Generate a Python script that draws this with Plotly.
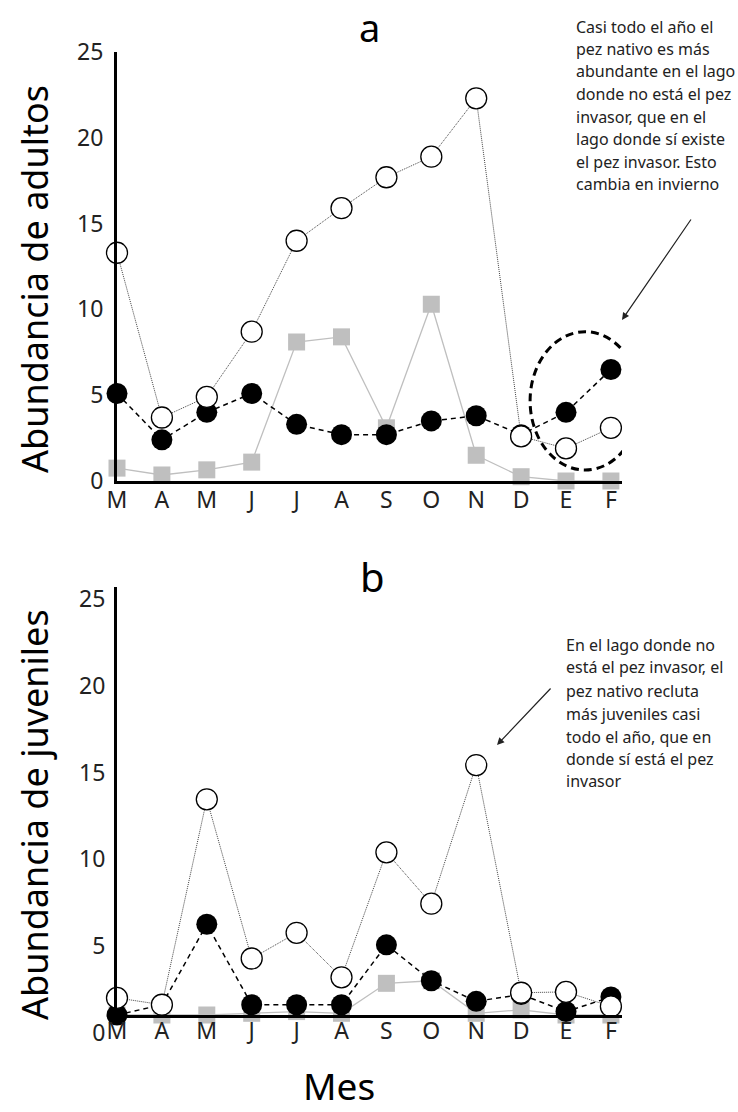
import plotly.graph_objects as go

W, H = 738, 1112

months = ["M", "A", "M", "J", "J", "A", "S", "O", "N", "D", "E", "F"]
idx = list(range(len(months)))

# Panel a: adults
adult_native_no_invader = [13.3, 3.7, 4.9, 8.7, 14.0, 15.9, 17.7, 18.9, 22.3, 2.6, 1.9, 3.1]
adult_native_with_invader = [5.1, 2.4, 4.0, 5.1, 3.3, 2.7, 2.7, 3.5, 3.8, 2.7, 4.0, 6.5]
adult_invader = [0.75, 0.35, 0.65, 1.1, 8.1, 8.4, 3.1, 10.3, 1.5, 0.25, 0.0, 0.0]

# Panel b: juveniles
juv_native_no_invader = [1.0, 0.6, 12.6, 3.3, 4.8, 2.2, 9.5, 6.5, 14.6, 1.3, 1.35, 0.5]
juv_native_with_invader = [0.0, 0.6, 5.3, 0.6, 0.6, 0.6, 4.1, 2.0, 0.8, 1.2, 0.2, 1.05]
juv_invader = [0.0, 0.0, 0.0, 0.1, 0.2, 0.1, 1.85, 2.0, 0.1, 0.3, 0.0, 0.0]

y_ticks = [0, 5, 10, 15, 20, 25]

note_a = ["Casi todo el año el", "pez nativo es más", "abundante en el lago",
          "donde no está el pez", "invasor, que en el", "lago donde sí existe",
          "el pez invasor. Esto", "cambia en invierno"]
note_b = ["En el lago donde no", "está el pez invasor, el", "pez nativo recluta",
          "más juveniles casi", "todo el año, que en", "donde sí está el pez",
          "invasor"]

FONT = "Noto Sans"


def px(x):
    return x / W


def py(y):
    return 1 - y / H


fig = go.Figure()

# carrier for the (offset) tick labels of panel b; draws nothing
fig.add_trace(go.Scatter(x=idx, y=juv_native_no_invader, xaxis="x3", yaxis="y3",
                         mode="none", showlegend=False, hoverinfo="skip"))


def add_panel(xa, ya, sq, filled, opn):
    fig.add_trace(go.Scatter(
        x=idx, y=sq, xaxis=xa, yaxis=ya, mode="lines+markers",
        line=dict(color="#bfbfbf", width=1.3),
        marker=dict(symbol="square", size=17, color="#bfbfbf"),
        cliponaxis=False, showlegend=False, hoverinfo="skip"))
    fig.add_trace(go.Scatter(
        x=idx, y=filled, xaxis=xa, yaxis=ya, mode="lines+markers",
        line=dict(color="black", width=1.5, dash="5px,4px"),
        marker=dict(symbol="circle", size=21, color="black"),
        cliponaxis=False, showlegend=False, hoverinfo="skip"))
    fig.add_trace(go.Scatter(
        x=idx, y=opn, xaxis=xa, yaxis=ya, mode="lines+markers",
        line=dict(color="#444444", width=1, dash="1px,1px"),
        marker=dict(symbol="circle", size=21, color="white",
                    line=dict(color="black", width=1.3)),
        cliponaxis=False, showlegend=False, hoverinfo="skip"))


add_panel("x", "y", adult_invader, adult_native_with_invader, adult_native_no_invader)
add_panel("x2", "y2", juv_invader, juv_native_with_invader, juv_native_no_invader)

xdom = [px(117), px(622)]
xrange_ = [0, 11.247]
tickfont = dict(family=FONT, size=23, color="#222")

xcommon = dict(domain=xdom, range=xrange_, tickvals=idx, ticktext=months,
               showline=True, linewidth=3, linecolor="black", ticks="",
               tickfont=tickfont, showgrid=False, zeroline=False,
               fixedrange=True, automargin=False)
ycommon = dict(range=[0, 25], tickvals=y_ticks, showline=True, linewidth=3,
               linecolor="black", ticks="outside", ticklen=6,
               tickcolor="rgba(0,0,0,0)", showgrid=False,
               zeroline=False, fixedrange=True, automargin=False)

fig.update_layout(
    template="none",
    width=W, height=H, margin=dict(l=0, r=0, t=0, b=0, pad=0, autoexpand=False),
    paper_bgcolor="white", plot_bgcolor="rgba(0,0,0,0)",
    xaxis=dict(anchor="y", ticklabelstandoff=-4, **xcommon),
    yaxis=dict(anchor="x", domain=[py(481), py(52)], tickfont=tickfont, **ycommon),
    xaxis2=dict(anchor="y2", ticklabelstandoff=-7, **xcommon),
    yaxis2=dict(anchor="x2", domain=[py(1015), py(587)], showticklabels=False,
                **ycommon),
    xaxis3=dict(anchor="y3", domain=xdom, range=xrange_, visible=False,
                automargin=False, fixedrange=True),
    yaxis3=dict(anchor="x3", domain=[py(1033), py(599)], range=[0, 25],
                tickvals=y_ticks, showline=False, ticks="outside", ticklen=6,
                tickcolor="rgba(0,0,0,0)", tickfont=tickfont, showgrid=False,
                zeroline=False, fixedrange=True, automargin=False),
    showlegend=False,
)

# dashed ellipse around winter months (panel a)
fig.add_shape(type="circle", xref="x", yref="y", x0=9.2, x1=11.65, y0=0.64, y1=8.7,
              line=dict(color="black", width=3, dash="8px,5px"))

ann = []
# panel letters and axis titles
ann.append(dict(text="a", x=px(370), y=1, xref="paper", yref="paper",
                xanchor="center", yanchor="top", borderpad=0,
                showarrow=False, font=dict(family=FONT, size=38, color="black")))
ann.append(dict(text="b", x=px(372), y=py(576), xref="paper", yref="paper",
                xanchor="center", yanchor="middle",
                showarrow=False, font=dict(family=FONT, size=40, color="black")))
ann.append(dict(text="Abundancia de adultos", x=px(34), y=py(279), xref="paper",
                yref="paper", textangle=-90, showarrow=False,
                xanchor="center", yanchor="middle",
                font=dict(family=FONT, size=36, color="black")))
ann.append(dict(text="Abundancia de juveniles", x=px(34), y=py(815), xref="paper",
                yref="paper", textangle=-90, showarrow=False,
                xanchor="center", yanchor="middle",
                font=dict(family=FONT, size=36, color="black")))
ann.append(dict(text="Mes", x=px(339), y=0, xref="paper", yref="paper",
                xanchor="center", yanchor="bottom", borderpad=0,
                showarrow=False, font=dict(family=FONT, size=37, color="black")))

# notes
ya = [27, 49, 71, 94, 117, 139, 162, 184]
for t, yy in zip(note_a, ya):
    ann.append(dict(text=t, x=px(574), y=py(yy), xref="paper", yref="paper",
                    xanchor="left", yanchor="middle", showarrow=False,
                    font=dict(family=FONT, size=16, color="#222")))
yb = [645, 667, 691, 714, 737, 759, 781]
for t, yy in zip(note_b, yb):
    ann.append(dict(text=t, x=px(564), y=py(yy), xref="paper", yref="paper",
                    xanchor="left", yanchor="middle", showarrow=False,
                    font=dict(family=FONT, size=16, color="#222")))

# arrows
ann.append(dict(text="", x=px(622), y=py(320), xref="paper", yref="paper",
                ax=70, ay=-102, showarrow=True, arrowhead=2, arrowsize=1.2,
                arrowwidth=1.2, arrowcolor="#222"))
ann.append(dict(text="", x=px(497), y=py(745), xref="paper", yref="paper",
                ax=55, ay=-58, showarrow=True, arrowhead=2, arrowsize=1.2,
                arrowwidth=1.2, arrowcolor="#222"))

fig.update_layout(annotations=ann)

fig.write_html("out.html",
               config={"displayModeBar": False},
               post_script="document.body.style.margin='0px';"
                           "document.body.style.overflow='hidden';")
